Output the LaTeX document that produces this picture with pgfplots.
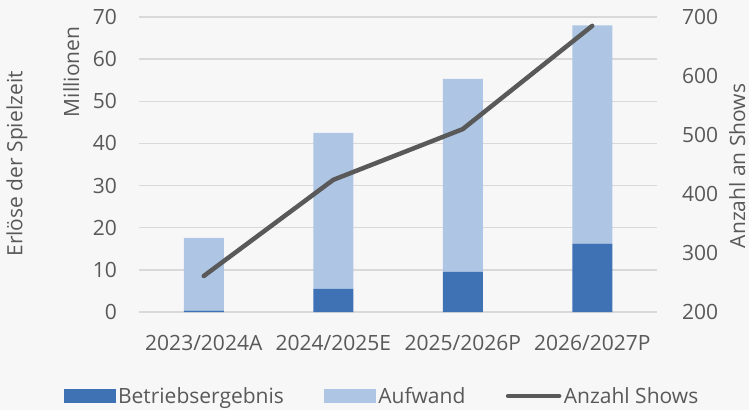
\documentclass[border=0pt]{standalone}
\usepackage{pgfplots}
\pgfplotsset{compat=1.18}
\usepackage{fontspec}
\setmainfont{Open Sans}
\definecolor{darkbar}{HTML}{3F72B5}
\definecolor{lightbar}{HTML}{AEC6E4}
\definecolor{txt}{HTML}{595959}
\definecolor{grid}{HTML}{D9D9D9}
\definecolor{bg}{HTML}{F7F7F7}
\begin{document}
\begin{tikzpicture}[font=\fontsize{21bp}{25bp}\selectfont, text=txt]
\path[use as bounding box, fill=bg] (0,0) rectangle (749bp,410bp);
\begin{axis}[
  at={(139bp,98bp)}, anchor=south west,
  scale only axis, width=518bp, height=295bp,
  clip=false,
  xmin=-0.5, xmax=3.5, ymin=0, ymax=70,
  ybar stacked, bar width=40bp,
  xtick={0,1,2,3},
  xticklabels={2023/2024A,2024/2025E,2025/2026P,2026/2027P},
  ytick={0,10,...,70},
  axis line style={draw=none}, tick style={draw=none},
  ymajorgrids, grid style={color=grid, line width=1.3bp},
  /pgf/number format/assume math mode=true,
  yticklabel style={anchor=east, inner sep=0pt, xshift=-22bp, text=txt},
  xticklabel style={anchor=north, inner sep=0pt, yshift=-23bp, text=txt},
  ylabel={Erlöse der Spielzeit},
  ylabel style={at={(axis description cs:-0.2355,0.502)}, anchor=center, text=txt},
]
\addplot[fill=darkbar, draw=none] coordinates {(0,0.3) (1,5.5) (2,9.5) (3,16.2)};
\addplot[fill=lightbar, draw=none] coordinates {(0,17.3) (1,37.0) (2,45.8) (3,51.8)};
\node[rotate=90, text=txt, anchor=center] at (axis description cs:-0.131,0.814) {Millionen};
\end{axis}
\begin{axis}[
  at={(139bp,98bp)}, anchor=south west,
  scale only axis, width=518bp, height=295bp,
  xmin=-0.5, xmax=3.5, ymin=200, ymax=700,
  ytick={200,300,...,700},
  axis y line*=right, axis x line=none,
  axis line style={draw=none}, tick style={draw=none},
  /pgf/number format/assume math mode=true,
  yticklabel style={anchor=west, inner sep=0pt, xshift=25bp, text=txt},
  ylabel={Anzahl an Shows},
  ylabel style={at={(axis description cs:1.155,0.495)}, anchor=center, rotate=0, text=txt},
  legend columns=3,
  legend style={at={(axis description cs:0.470,-0.285)}, anchor=center, draw=none, fill=none,
    nodes={inner sep=2.5bp, text=txt}, /tikz/every even column/.append style={column sep=38bp}},
  legend cell align=left,
]
\addlegendimage{legend image code/.code={\fill[darkbar] (-4bp,-6.5bp) rectangle (47bp,6.5bp);}}
\addlegendentry{Betriebsergebnis}
\addlegendimage{legend image code/.code={\fill[lightbar] (-4bp,-6.5bp) rectangle (47bp,6.5bp);}}
\addlegendentry{Aufwand}
\addplot[color=txt, line width=4.5bp, line cap=round, line join=round, mark=none,
  legend image code/.code={\draw[txt, line width=4.5bp, line cap=round] (-1bp,0bp) -- (50bp,0bp);}]
  coordinates {(0,261) (1,424) (2,510) (3,685)};
\addlegendentry{Anzahl Shows}
\end{axis}
\end{tikzpicture}
\end{document}
